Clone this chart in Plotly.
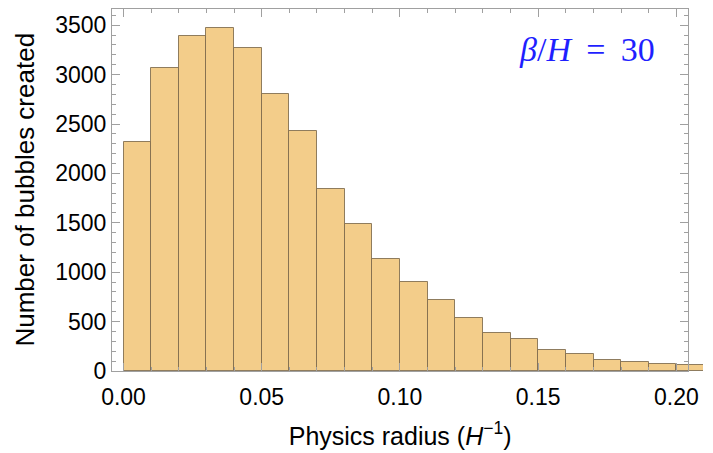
import plotly.graph_objects as go

# Histogram of physical bubble radii (units of 1/H), bin width 0.01
bin_left = [0.00, 0.01, 0.02, 0.03, 0.04, 0.05, 0.06, 0.07, 0.08, 0.09, 0.10,
            0.11, 0.12, 0.13, 0.14, 0.15, 0.16, 0.17, 0.18, 0.19, 0.20]
counts = [2320, 3064, 3391, 3475, 3266, 2801, 2431, 1840, 1490, 1129, 900,
          715, 533, 388, 320, 216, 176, 115, 88, 68, 65]
bin_width = 0.01

x_ticks = [0.00, 0.05, 0.10, 0.15, 0.20]
x_tick_text = ["0.00", "0.05", "0.10", "0.15", "0.20"]
y_ticks = [0, 500, 1000, 1500, 2000, 2500, 3000, 3500]

x_lo = -0.00416
x_hi_frame = 0.2043
x_hi_full = 0.2096
y_hi = 3664
frame_domain = 0.975

frame_col = "#a0a0a0"
sans = "Liberation Sans, Arial, sans-serif"
tick_font = dict(family=sans, size=23, color="black")

fig = go.Figure()
fig.add_trace(go.Bar(
    x=[b + bin_width / 2 for b in bin_left],
    y=counts,
    width=[bin_width] * len(bin_left),
    marker=dict(color="#f3cd8a", line=dict(color="rgba(125,105,75,0.85)", width=1)),
    xaxis="x", yaxis="y",
    showlegend=False,
    hoverinfo="skip",
))

fig.update_layout(
    width=713, height=453,
    margin=dict(l=112, r=0, t=9, b=82),
    paper_bgcolor="white", plot_bgcolor="rgba(0,0,0,0)",
    bargap=0,
    xaxis=dict(domain=[0, 1], range=[x_lo, x_hi_full], visible=False, fixedrange=True),
    yaxis=dict(domain=[0, 1], range=[0, y_hi], visible=False, fixedrange=True),
    xaxis2=dict(
        domain=[0, frame_domain], anchor="y2", range=[x_lo, x_hi_frame],
        showgrid=False, zeroline=False,
        showline=True, linecolor=frame_col, linewidth=1, mirror="ticks",
        ticks="inside", ticklen=8, tickcolor=frame_col, tickwidth=1,
        tickvals=x_ticks, ticktext=x_tick_text, tickfont=tick_font,
        ticklabelstandoff=5,
        minor=dict(ticks="inside", dtick=0.01, tick0=0, ticklen=4, tickcolor=frame_col, showgrid=False),
        title=dict(text="Physics radius (<i>H</i><sup>−1</sup>)",
                   font=dict(family=sans, size=25, color="black"),
                   standoff=18),
    ),
    yaxis2=dict(
        domain=[0, 1], anchor="x2", range=[0, y_hi],
        showgrid=False, zeroline=False,
        showline=True, linecolor=frame_col, linewidth=1, mirror="ticks",
        ticks="inside", ticklen=8, tickcolor=frame_col, tickwidth=1,
        tickvals=y_ticks, tickfont=tick_font,
        minor=dict(ticks="inside", dtick=100, tick0=0, ticklen=4, tickcolor=frame_col, showgrid=False),
    ),
    annotations=[
        dict(
            text="Number of bubbles created",
            xref="paper", yref="paper", x=-0.148, y=0.5,
            xanchor="center", yanchor="middle", textangle=-90, showarrow=False,
            font=dict(family=sans, size=26, color="black"),
        ),
        dict(
            text="<i>β</i>/<i>H</i>\u2009 = \u200930",
            xref="x2", yref="y2", x=0.1930, y=3253,
            xanchor="right", yanchor="middle", showarrow=False,
            font=dict(family="Liberation Serif, Times New Roman, serif", size=34, color="#1f1fff"),
        ),
    ],
)

fig.write_html("out.html")
